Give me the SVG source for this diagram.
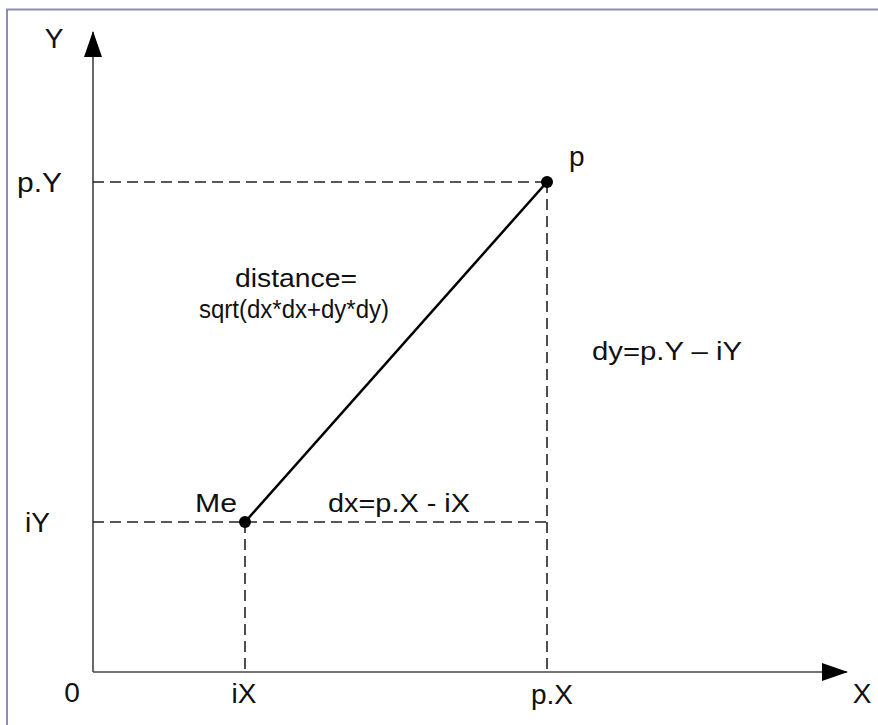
<svg xmlns="http://www.w3.org/2000/svg" width="878" height="725" viewBox="0 0 878 725">
<style>
.lbl{font-family:"Liberation Sans",Arial,sans-serif;font-size:28px;fill:#111}
.in{font-size:26px}
.axis{stroke:#444;stroke-width:1.6;fill:none}
.dash{stroke:#222;stroke-width:1.6;stroke-dasharray:11 6;fill:none}
.frame{stroke:#8c8cbc;stroke-width:2;fill:none}
</style>
<defs>
<marker id="arr" viewBox="0 0 26 18" refX="25" refY="9" markerWidth="26" markerHeight="18" markerUnits="userSpaceOnUse" orient="auto">
<path d="M0,0 L26,9 L0,18 Z" fill="#000"/>
</marker>
</defs>
<rect width="878" height="725" fill="#fff"/>
<path class="frame" d="M7,725 V9.5 H878"/>
<g id="connectors">
<line class="axis" x1="93" y1="672" x2="93" y2="32" marker-end="url(#arr)"/>
<line class="axis" x1="93" y1="672" x2="847" y2="672" marker-end="url(#arr)"/>
<line class="dash" x1="93" y1="182" x2="547" y2="182"/>
<line class="dash" x1="547" y1="182" x2="547" y2="672"/>
<line class="dash" x1="93" y1="522" x2="547" y2="522"/>
<line class="dash" x1="245" y1="522" x2="245" y2="672"/>
<line x1="245" y1="522" x2="547" y2="182" stroke="#000" stroke-width="2.5"/>
</g>
<g id="me">
<circle cx="245" cy="522" r="6" fill="#000"/>
<text class="lbl in" x="195" y="512" textLength="42" lengthAdjust="spacingAndGlyphs">Me</text>
</g>
<g id="p">
<circle cx="547" cy="182" r="6" fill="#000"/>
<text class="lbl" x="569" y="166">p</text>
</g>
<g id="labels">
<text class="lbl" x="54" y="48" text-anchor="middle">Y</text>
<text class="lbl" x="862" y="703" text-anchor="middle">X</text>
<text class="lbl" x="72" y="702" text-anchor="middle">0</text>
<text class="lbl" x="244" y="703" text-anchor="middle">iX</text>
<text class="lbl" x="552" y="704" text-anchor="middle">p.X</text>
<text class="lbl" x="17" y="192" textLength="45" lengthAdjust="spacingAndGlyphs">p.Y</text>
<text class="lbl" x="25" y="532" textLength="25" lengthAdjust="spacingAndGlyphs">iY</text>
<text class="lbl in" x="328" y="512" textLength="142" lengthAdjust="spacingAndGlyphs">dx=p.X - iX</text>
<text class="lbl in" x="235" y="287" textLength="122" lengthAdjust="spacingAndGlyphs">distance=</text>
<text class="lbl in" x="199" y="318" textLength="190" lengthAdjust="spacingAndGlyphs">sqrt(dx*dx+dy*dy)</text>
<text class="lbl in" x="592" y="360" textLength="150" lengthAdjust="spacingAndGlyphs">dy=p.Y – iY</text>
</g>
</svg>
